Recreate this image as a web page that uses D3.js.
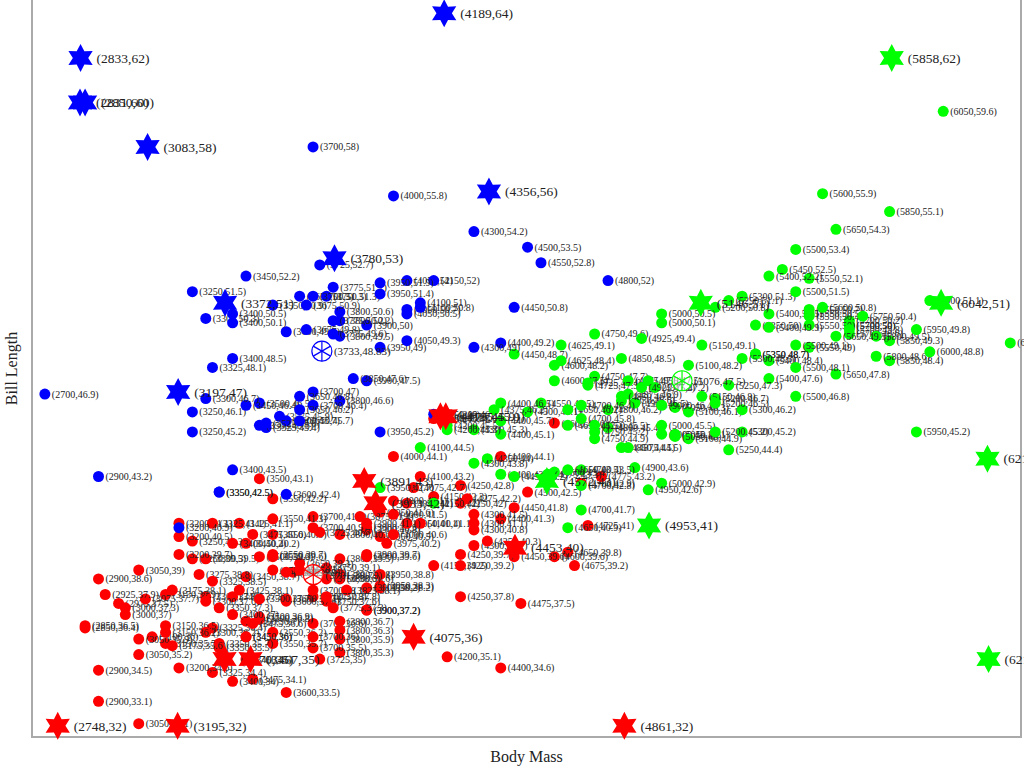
<!DOCTYPE html>
<html lang="en">
<head>
    <meta charset="UTF-8">
    <title>Penguins - Body Mass vs Bill Length</title>
    <script src="https://d3js.org/d3.v7.min.js"></script>
    <style>
        body { margin: 0; background: #fff; }
        text { font-family: "Liberation Serif", serif; }
    </style>
</head>
<body>
    <script type="text/javascript">
        var width = 1024, height = 768;

        // observed penguins: body mass (g) and bill length (mm), per species
        var adelieMass = [3750,3800,3250,3450,3650,3625,4675,3475,4250,3300,3700,3200,3800,4400,3700,3450,4500,3325,4200,
            3400,3600,3800,3950,3800,3800,3550,3200,3150,3950,3250,3900,3300,3900,3325,4150,3950,3550,3300,4650,
            3150,3900,3100,4400,3000,4600,3425,2975,3450,4150,3500,4300,3450,4050,2900,3700,3550,3800,2850,3750,
            3150,4400,3600,4050,2850,3950,3350,4100,3050,4450,3600,3900,3550,4150,3700,4250,3700,3900,3550,4000,
            3200,4700,3800,4200,3350,3550,3800,3500,3950,3600,3550,4300,3400,4450,3300,4300,3700,4350,2900,4100,
            3725,4725,3075,4250,2925,3550,3750,3900,3175,4775,3825,4600,3200,4275,3900,4075,2900,3775,3350,3325,
            3150,3500,3450,3875,3050,4000,3275,4300,3050,4000,3325,3500,3500,4475,3425,3900,3175,3975,3400,4250,
            3400,3475,3050,3725,3000,3650,4250,3475,3450,3750,3700,4000];
        var adelieBill = [39.1,39.5,40.3,36.7,39.3,38.9,39.2,34.1,42,37.8,37.8,41.1,38.6,34.6,36.6,38.7,42.5,34.4,46,
            37.8,37.7,35.9,38.2,38.8,35.3,40.6,40.5,37.9,40.5,39.5,37.2,39.5,40.9,36.4,39.2,38.8,42.2,37.6,39.8,
            36.5,40.8,36,44.1,37,39.6,41.1,37.5,36,42.3,39.6,40.1,35,42,34.5,41.4,39,40.6,36.5,37.6,
            35.7,41.3,37.6,41.1,36.4,41.6,35.5,41.1,35.9,41.8,33.5,39.7,39.6,45.8,35.5,42.8,40.9,37.2,36.2,42.1,
            34.6,42.9,36.7,35.1,37.3,41.3,36.3,36.9,38.3,38.9,35.7,41.1,34,39.6,36.2,40.8,38.1,40.3,33.1,43.2,
            35,41,37.7,37.8,37.9,39.7,38.6,38.2,38.1,43.2,38.1,45.6,39.7,42.2,39.6,42.7,38.6,37.3,35.7,41.1,
            36.2,37.7,40.2,41.4,35.2,40.6,38.8,41.5,39,44.1,38.5,43.1,36.8,37.5,38.1,41.1,35.6,40.2,37,39.7,
            40.2,40.6,32.1,40.7,37.3,39,39.2,36.6,36,37.8,36,41.5];

        var gentooMass = [4500,5700,4450,5700,5400,4550,4800,5200,4400,5150,4650,5550,4650,5850,4200,5850,4150,6300,
            4800,5350,5700,5000,4400,5050,5000,5100,4100,5650,4600,5550,5250,4700,5050,6050,5150,5400,4950,5250,
            4350,5350,3950,5700,4300,4750,5550,4900,4200,5400,5100,5300,4850,5300,4400,5000,4900,5050,4300,5000,
            4450,5550,4200,5300,4400,5650,4700,5700,4650,5800,4700,5550,4750,5000,5100,5200,4700,5800,4600,6000,
            4750,5950,4625,5450,4725,5350,4750,5600,4600,5300,4875,5550,4950,5400,4750,5650,4850,5200,4925,4875,
            4625,5250,4850,5600,4975,5500,4725,5500,4700,5500,4575,5500,5000,5950,4650,5500,4375,5850,4875,6000,
            4925,4850,5750,5200,5400];
        var gentooBill = [46.1,50,48.7,50,47.6,46.5,45.4,46.7,43.3,46.8,40.9,49,45.5,48.4,45.8,49.3,42,49.2,
            46.2,48.7,50.2,45.1,46.5,46.3,42.9,46.1,44.5,47.8,48.2,50,47.3,42.8,45.1,59.6,49.1,48.4,42.6,44.4,
            44,48.7,42.7,49.6,45.3,49.6,50.5,43.6,45.5,50.5,44.9,45.2,46.6,48.5,45.1,50.1,46.5,45,43.8,45.5,
            43.2,50.4,45.3,46.2,45.7,54.3,45.8,49.8,46.2,49.5,43.5,50.7,47.7,46.4,48.2,46.5,46.4,48.6,47.5,51.1,
            45.2,45.2,49.1,52.5,47.4,50,44.9,50.8,43.4,51.3,47.5,52.1,47.5,52.2,45.5,49.5,44.5,50.8,49.4,46.9,
            48.4,51.1,48.5,55.9,47.2,49.1,47.3,46.8,41.7,53.4,43.3,48.1,50.5,49.8,43.5,51.5,46.2,55.1,44.5,48.8,
            47.2,46.8,50.4,45.2,49.9];

        var chinstrapMass = [3500,3900,3650,3525,3725,3950,3250,3750,4150,3700,3800,3775,3700,4050,3575,4050,3300,
            3700,3450,4400,3600,3400,2900,3800,3300,4150,3400,3800,3700,4550,3200,4300,3350,4100,3600,3900,3850,
            4800,2700,4500,3950,3650,3550,3500,3675,4450,3400,4300,3250,3675,3325,3950,3600,4050,3350,3450,3250,
            4050,3800,3525,3950,3650,3650,4000,3400,3775,4100,3775];
        var chinstrapBill = [46.5,50,51.3,45.4,52.7,45.2,46.1,51.3,46,51.3,46.6,51.7,47,52,45.9,50.5,50.3,
            58,46.4,49.2,42.4,48.5,43.2,50.6,46.7,52,50.5,49.5,46.4,52.8,40.9,54.2,42.5,51,49.7,47.5,47.6,
            52,46.9,53.5,49,46.2,50.9,45.5,50.9,50.8,50.1,49,51.5,49.8,48.1,51.4,45.7,50.7,42.5,52.2,45.2,
            49.3,50.2,45.6,51.9,46.8,45.7,55.8,43.5,49.6,50.8,50.2];

        // star markers
        var starMass = [4189,2833,2831,2850,3083,4356,3780,3372,3197,
            4175,4195,3891,3933,4453,4075,3370,3467,2748,3195,4861,
            5858,5146,6042,6215,6219,4953,4572];
        var starBill = [64,62,60,60,58,56,53,51,47,
            45.9,45.9,43,42,40,36,35,35,32,32,32,
            62,51,51,44,35,41,43];
        var starSpecies = ["Chinstrap","Chinstrap","Chinstrap","Chinstrap","Chinstrap","Chinstrap","Chinstrap","Chinstrap","Chinstrap",
            "Adelie","Adelie","Adelie","Adelie","Adelie","Adelie","Adelie","Adelie","Adelie","Adelie","Adelie",
            "Gentoo","Gentoo","Gentoo","Gentoo","Gentoo","Gentoo","Gentoo"];

        // species means
        var centroidSpecies = ["Adelie","Gentoo","Chinstrap"];
        var centroidMass = [3701,5076,3733];
        var centroidBill = [38.79,47.5,48.83];

        var colors = {Adelie:"#ff0000", Chinstrap:"#0000ff", Gentoo:"#00ff00"};

        function zipPoints(species, mass, bill){
            return mass.map(function(m,i){ return {species:species, mass:m, bill:bill[i]}; });
        }
        var points = zipPoints("Adelie",adelieMass,adelieBill)
            .concat(zipPoints("Gentoo",gentooMass,gentooBill))
            .concat(zipPoints("Chinstrap",chinstrapMass,chinstrapBill));
        var stars = starMass.map(function(m,i){ return {species:starSpecies[i], mass:m, bill:starBill[i]}; });
        var centroids = centroidMass.map(function(m,i){ return {species:centroidSpecies[i], mass:m, bill:centroidBill[i]}; });

        var plot = {left:32, top:0, right:1021, bottom:737};
        var x = d3.scaleLinear().domain([2652,6340]).range([plot.left, plot.right]);
        var y = d3.scaleLinear().domain([31.5,64.6]).range([plot.bottom, plot.top]);

        function label(d){ return "(" + d.mass + "," + d.bill + ")"; }

        // six pointed star for d3.symbol
        var hexStar = {
            draw: function(ctx, size){
                var r = Math.sqrt(size), ri = r*0.55;
                for(var k=0; k<12; k++){
                    var a = -Math.PI/2 + k*Math.PI/6, rr = (k%2===0) ? r : ri;
                    if(k===0) ctx.moveTo(rr*Math.cos(a), rr*Math.sin(a));
                    else ctx.lineTo(rr*Math.cos(a), rr*Math.sin(a));
                }
                ctx.closePath();
            }
        };

        var svg = d3.select("body").append("svg")
                    .attr("width",width)
                    .attr("height",height);

        svg.append("rect")
           .attr("x",plot.left).attr("y",plot.top-1)
           .attr("width",plot.right-plot.left).attr("height",plot.bottom-plot.top+1)
           .style("fill","none").style("stroke","#aaaaaa").style("stroke-width",2);

        var pts = svg.append("g").selectAll("g")
                     .data(points).enter().append("g")
                     .attr("transform",function(d){ return "translate("+x(d.mass)+","+y(d.bill)+")"; });
        pts.append("circle").attr("r",5.5).style("fill",function(d){ return colors[d.species]; });
        pts.append("text").attr("x",7).attr("dy","0.35em")
           .style("font-size","10px").style("fill","#222")
           .text(label);

        var cen = svg.append("g").selectAll("g")
                     .data(centroids).enter().append("g")
                     .attr("transform",function(d){ return "translate("+x(d.mass)+","+y(d.bill)+")"; });
        cen.append("circle").attr("r",10)
           .style("fill","#fff").style("fill-opacity",0.5)
           .style("stroke",function(d){ return colors[d.species]; }).style("stroke-width",1.2);
        [90,30,150].forEach(function(deg){
            var a = deg*Math.PI/180;
            cen.append("line")
               .attr("x1",10*Math.cos(a)).attr("y1",-10*Math.sin(a))
               .attr("x2",-10*Math.cos(a)).attr("y2",10*Math.sin(a))
               .style("stroke",function(d){ return colors[d.species]; }).style("stroke-width",1.2);
        });
        cen.append("text").attr("x",12).attr("dy","0.35em")
           .style("font-size","11px").style("fill","#222")
           .text(label);

        var st = svg.append("g").selectAll("g")
                    .data(stars).enter().append("g")
                    .attr("transform",function(d){ return "translate("+x(d.mass)+","+y(d.bill)+")"; });
        st.append("path").attr("d",d3.symbol().type(hexStar).size(196))
          .style("fill",function(d){ return colors[d.species]; });
        st.append("text").attr("x",16).attr("dy","0.35em")
          .style("font-size","13.5px").style("fill","#222")
          .text(label);

        svg.append("text")
           .attr("x",(plot.left+plot.right)/2).attr("y",762)
           .attr("text-anchor","middle").style("font-size","16px").style("fill","#222")
           .text("Body Mass");
        svg.append("text")
           .attr("transform","translate(17,"+((plot.top+plot.bottom)/2)+") rotate(-90)")
           .attr("text-anchor","middle").style("font-size","16px").style("fill","#222")
           .text("Bill Length");
    </script>
</body>
</html>
